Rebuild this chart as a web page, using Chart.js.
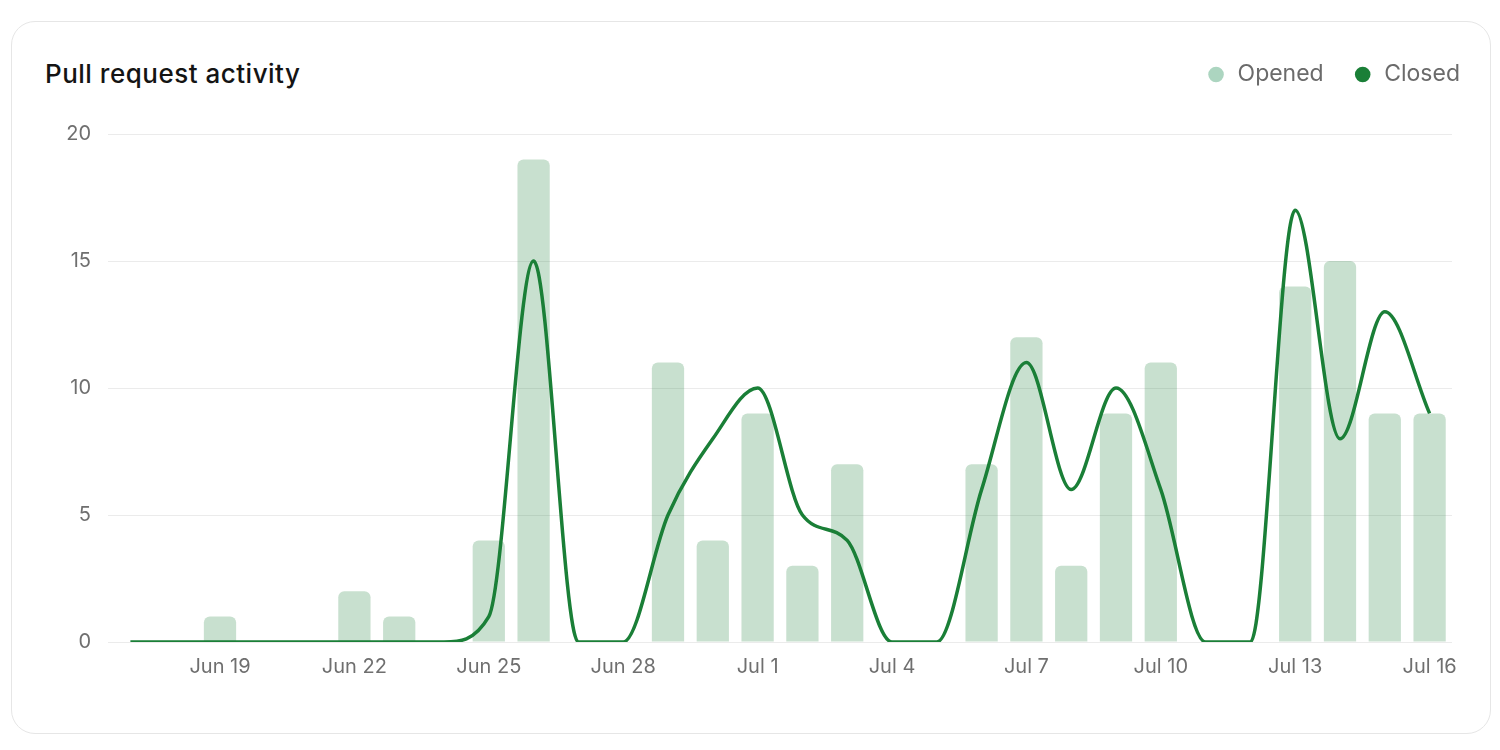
<!DOCTYPE html>
<html>
<head>
<meta charset="utf-8">
<script src="https://cdn.jsdelivr.net/npm/chart.js@4.4.1/dist/chart.umd.min.js"></script>
<style>
    html, body { margin:0; padding:0; background:#ffffff; }
    body { width:1500px; height:750px; position:relative; overflow:hidden; font-family:Inter, sans-serif; }
    #card {
        position:absolute; left:11px; top:21px; width:1478px; height:711px;
        border:1.5px solid #e6e6e6; border-radius:24px; background:#fff;
    }
    #title {
        position:absolute; left:45px; top:58px; line-height:32px;
        font-size:26px; font-weight:500; letter-spacing:0.5px; color:#141414;
    }
    #myChart { position:absolute; left:0; top:0; }
</style>
</head>
<body>
<div id="card"></div>
<div id="title">Pull request activity</div>
<canvas id="myChart" width="1500" height="750"></canvas>
<script>
// days shown on the x axis
var days = ['Jun 17','Jun 18','Jun 19','Jun 20','Jun 21','Jun 22','Jun 23','Jun 24','Jun 25','Jun 26',
            'Jun 27','Jun 28','Jun 29','Jun 30','Jul 1','Jul 2','Jul 3','Jul 4','Jul 5','Jul 6',
            'Jul 7','Jul 8','Jul 9','Jul 10','Jul 11','Jul 12','Jul 13','Jul 14','Jul 15','Jul 16'];

// pull requests per day
// (not called "closed": window.closed is a read-only browser property)
var openedPRs = [0,0,1,0,0,2,1,0,4,19,0,0,11,4,9,3,7,0,0,7,12,3,9,11,0,0,14,15,9,9];
var closedPRs = [0,0,0,0,0,0,0,0,1,15,0,0,5,8,10,5,4,0,0,6,11,6,10,6,0,0,17,8,13,9];

var yTicks = [0, 5, 10, 15, 20];

var green = '#1a7f37';
var lightGreen = 'rgba(26,127,55,0.24)';

Chart.defaults.font.family = 'Inter';

// push the plot down a bit below the legend
var legendGap = {
    id: 'legendGap',
    beforeInit: function(chart){
        var fit = chart.legend.fit;
        chart.legend.fit = function(){
            fit.call(this);
            this.height += 38;
        };
    }
};

var ctx = document.getElementById('myChart').getContext('2d');
var myChart = new Chart(ctx, {
    type: 'bar',
    data: {
        labels: days,
        datasets: [{
            type: 'bar',
            label: 'Opened',
            data: openedPRs,
            backgroundColor: lightGreen,
            borderRadius: 6,
            borderSkipped: 'start',
            order: 1
        },{
            type: 'line',
            label: 'Closed',
            data: closedPRs,
            borderColor: green,
            backgroundColor: green,
            borderWidth: 3.5,
            pointRadius: 0,
            fill: false,
            cubicInterpolationMode: 'monotone',
            order: 0
        }]
    },
    options: {
        responsive: false,
        animation: false,
        layout: { padding: { top: 34, left: 48, right: 11, bottom: 58 } },
        plugins: {
            tooltip: { enabled: false },
            legend: {
                position: 'top',
                align: 'end',
                labels: {
                    usePointStyle: true,
                    pointStyle: 'circle',
                    boxWidth: 20,
                    boxHeight: 11,
                    padding: 29,
                    color: '#6b6b6b',
                    font: { size: 23 },
                    sort: function(a, b){ return a.datasetIndex - b.datasetIndex; },
                    generateLabels: function(chart){
                        var items = Chart.defaults.plugins.legend.labels.generateLabels(chart);
                        items.forEach(function(it){
                            it.lineWidth = 0;
                            if (it.text == 'Opened') it.fillStyle = '#acd5c0';
                        });
                        return items;
                    }
                }
            }
        },
        scales: {
            x: {
                offset: true,
                grid: { display: false, drawTicks: false },
                border: { display: false },
                ticks: {
                    autoSkip: false,
                    maxRotation: 0,
                    padding: 13,
                    color: '#6f6f6f',
                    font: { size: 20 },
                    callback: function(value, index){
                        return index % 3 == 2 ? days[index] : '';
                    }
                },
                afterFit: function(scale){ scale.paddingRight = 48; }
            },
            y: {
                min: 0,
                max: 20,
                grid: { color: '#ebebeb', drawTicks: false },
                border: { display: false },
                afterBuildTicks: function(scale){
                    scale.ticks = yTicks.map(function(v){ return { value: v }; });
                },
                ticks: {
                    padding: 17,
                    color: '#6f6f6f',
                    font: { size: 20 }
                },
                afterFit: function(scale){ scale.width = 60; }
            }
        }
    },
    plugins: [legendGap]
});
</script>
</body>
</html>
